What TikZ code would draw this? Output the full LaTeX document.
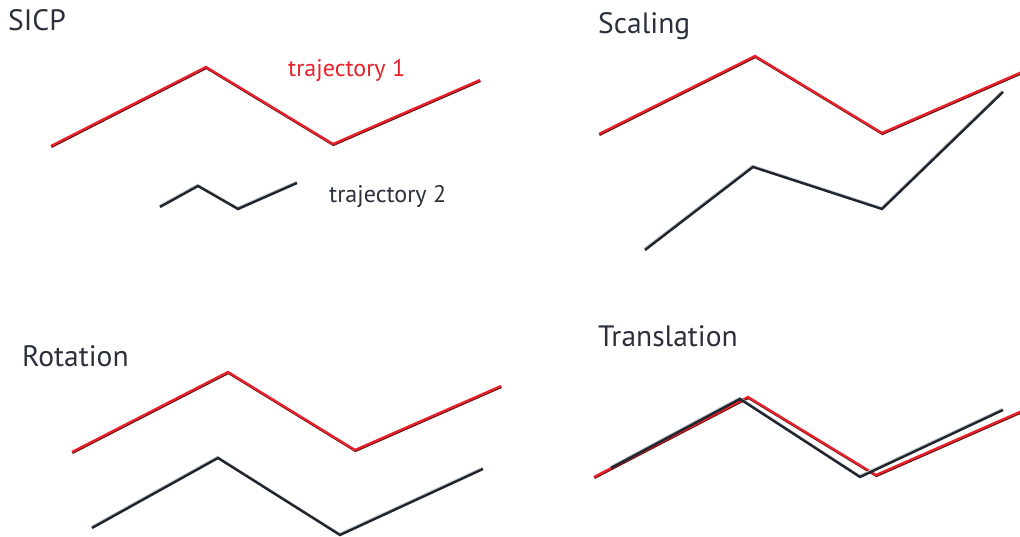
\documentclass[tikz,border=0pt]{standalone}
\usepackage{fontspec}
\setmainfont{PT Sans}
\definecolor{ink}{HTML}{2B303B}
\definecolor{trajred}{HTML}{E8202A}
\definecolor{trajdark}{HTML}{20242C}
\definecolor{redshade}{HTML}{5A0F12}
\definecolor{darkhi}{HTML}{B9BDC4}
\begin{document}
\begin{tikzpicture}[x=1pt,y=-1pt,
  title/.style={anchor=base west,inner sep=0pt,text=ink,font=\fontsize{29.5}{32}\selectfont},
  label/.style={anchor=base west,inner sep=0pt,font=\fontsize{24}{27}\selectfont},
  redpath/.style={draw=trajred,line width=2.3pt,line join=miter,
    preaction={draw=redshade,line width=2.3pt,transform canvas={xshift=0.4pt,yshift=-0.9pt}}},
  darkpath/.style={draw=trajdark,line width=2.4pt,line join=miter,
    preaction={draw=darkhi,line width=2.4pt,transform canvas={xshift=-0.4pt,yshift=0.9pt}}}]
\useasboundingbox (0,0) rectangle (1020,537);

% SICP panel
\node[title] (tsicp) at (8,31) {SICP};
\draw[redpath] (51,146) -- (206,67) -- (333,144) -- (480,80);
\draw[darkpath] (160,207) -- (198,186) -- (238,209) -- (297,183);
\node[label,text=trajred] (l1) at (288,77) {trajectory 1};
\node[label,text=ink] (l2) at (329,203) {trajectory 2};

% Scaling panel
\node[title] (tscale) at (598,34) {Scaling};
\draw[redpath] (599,134) -- (755,56) -- (882,133) -- (1022,72);
\draw[darkpath] (645,250) -- (753,167) -- (882,209) -- (1003,92);

% Rotation panel
\node[title] (trot) at (22,366) {Rotation};
\draw[redpath] (72,452) -- (228,372) -- (355,450) -- (501,386);
\draw[darkpath] (92,528) -- (218,458) -- (340,535) -- (483,469);

% Translation panel
\node[title] (ttrans) at (598,346) {Translation};
\draw[redpath] (594,477) -- (748,397) -- (876,475) -- (1022,411);
\draw[darkpath] (611,468) -- (740,399) -- (860,477) -- (1003,410);
\end{tikzpicture}
\end{document}
